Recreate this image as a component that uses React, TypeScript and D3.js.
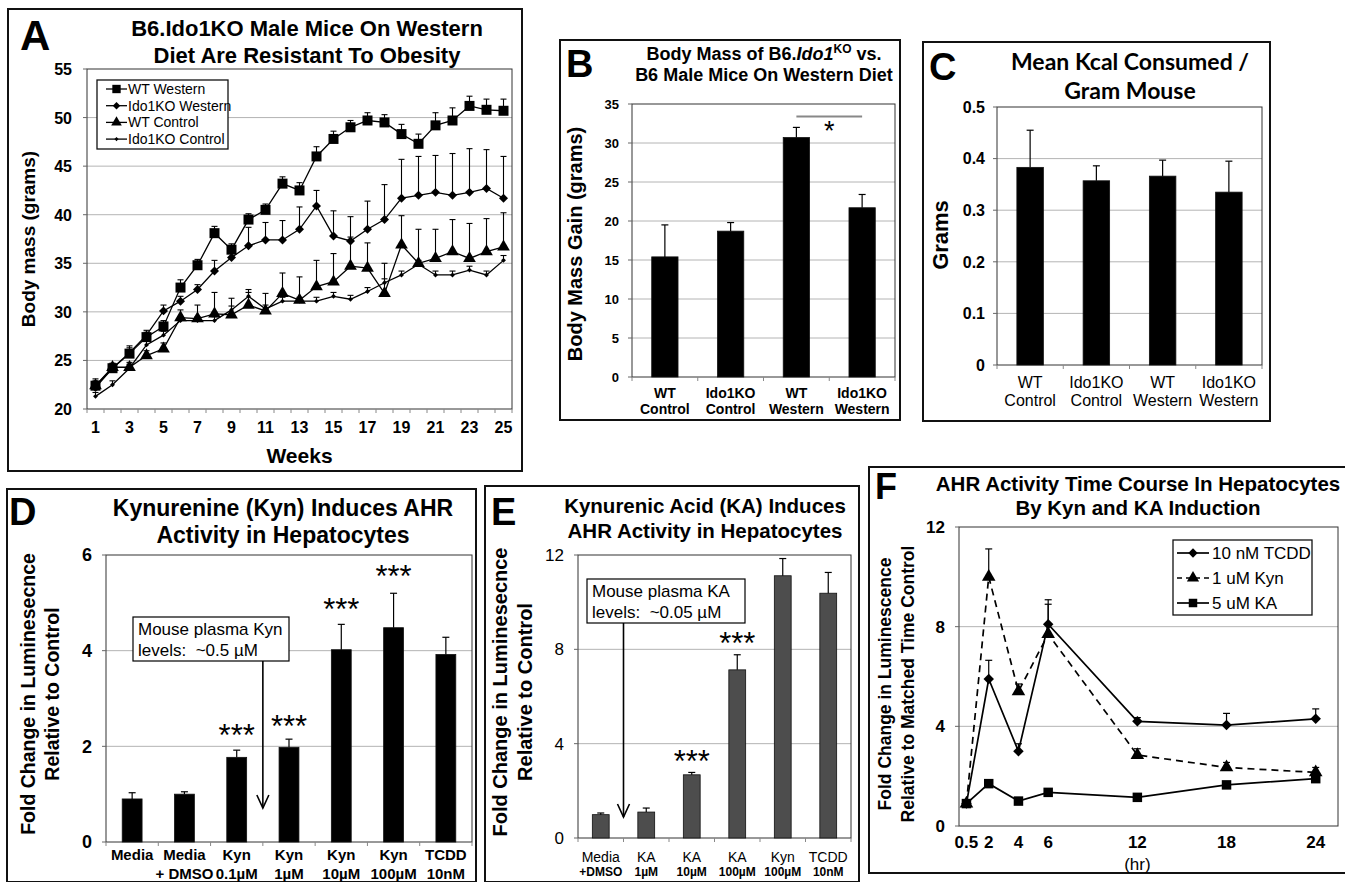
import React from 'react';
import * as d3 from 'd3';

const FONT = "'Liberation Sans', Arial, Helvetica, sans-serif";
const CAL = "Lato, 'Open Sans', sans-serif";
const GRID = '#b4b4b4';

// ---- Panel A: body mass by week ----
const weeks = [1, 2, 3, 4, 5, 6, 7, 8, 9, 10, 11, 12, 13, 14, 15, 16, 17, 18, 19, 20, 21, 22, 23, 24, 25];
const weekLabels = [1, 3, 5, 7, 9, 11, 13, 15, 17, 19, 21, 23, 25];
const massTicks = [20, 25, 30, 35, 40, 45, 50, 55];
const legendA = ['WT Western', 'Ido1KO Western', 'WT Control', 'Ido1KO Control'];
const wtWestern = [22.4, 24.2, 25.7, 27.4, 28.5, 32.5, 34.8, 38.1, 36.4, 39.5, 40.5, 43.2, 42.5, 46.0, 47.8, 49.0, 49.7, 49.5, 48.3, 47.3, 49.2, 49.7, 51.2, 50.8, 50.7];
const wtWesternErr = [0.7, 0.5, 0.8, 0.5, 0.6, 0.8, 0.6, 0.7, 0.6, 0.6, 0.6, 0.7, 0.8, 1.0, 0.8, 0.7, 0.8, 0.8, 1.0, 1.0, 1.3, 1.3, 1.0, 1.1, 1.2];
const koWestern = [22.2, 24.2, 25.8, 27.6, 30.1, 31.1, 32.3, 34.2, 35.6, 36.8, 37.4, 37.4, 38.5, 40.9, 37.8, 37.3, 38.5, 39.5, 41.7, 42.0, 42.3, 42.0, 42.3, 42.7, 41.7];
const koWesternErr = [0.5, 0.4, 0.5, 0.5, 0.6, 0.5, 0.5, 1.1, 0.6, 1.9, 1.8, 2.0, 2.3, 1.6, 2.6, 2.5, 2.9, 3.6, 4.0, 4.0, 3.8, 4.3, 4.5, 4.0, 4.3];
const wtControl = [22.4, 24.3, 24.3, 25.5, 26.2, 29.4, 29.3, 29.8, 29.7, 30.7, 30.1, 31.9, 31.2, 32.6, 33.1, 34.7, 34.5, 31.9, 36.9, 35.0, 35.5, 36.2, 35.5, 36.2, 36.7];
const wtControlErr = [0.5, 0.4, 0.5, 0.5, 0.6, 0.8, 1.4, 2.2, 1.7, 1.6, 1.8, 2.1, 2.4, 2.7, 2.9, 3.0, 2.6, 3.1, 3.0, 3.5, 3.0, 3.3, 3.6, 3.4, 3.5];
const koControl = [21.3, 22.5, 24.2, 26.6, 27.6, 29.1, 29.1, 29.1, 30.2, 31.6, 30.3, 31.1, 31.1, 31.1, 31.6, 31.3, 32.1, 33.0, 33.8, 34.9, 33.8, 33.8, 34.3, 33.8, 35.3];
const koControlErr = [0.4, 0.4, 0.4, 0.4, 0.4, 0.4, 0.4, 0.4, 0.4, 0.4, 0.4, 0.4, 0.4, 0.4, 0.4, 0.4, 0.4, 0.4, 0.4, 0.4, 0.4, 0.4, 0.4, 0.4, 0.5];

// ---- Panel B: body mass gain ----
const groupCats = [['WT', 'Control'], ['Ido1KO', 'Control'], ['WT', 'Western'], ['Ido1KO', 'Western']];
const gainValues = [15.4, 18.7, 30.7, 21.7];
const gainErr = [4.1, 1.1, 1.3, 1.7];
const gainTicks = [0, 5, 10, 15, 20, 25, 30, 35];
const gainSig = 33.4;

// ---- Panel C: kcal per gram ----
const kcalValues = [0.383, 0.357, 0.366, 0.335];
const kcalErr = [0.072, 0.029, 0.031, 0.060];
const kcalTicks = [0, 0.1, 0.2, 0.3, 0.4, 0.5];

// ---- Panel D: Kyn dose ----
const kynCats = [['Media', ''], ['Media', '+ DMSO'], ['Kyn', '0.1µM'], ['Kyn', '1µM'], ['Kyn', '10µM'], ['Kyn', '100µM'], ['TCDD', '10nM']];
const kynValues = [0.9, 1.0, 1.77, 1.98, 4.02, 4.48, 3.92];
const kynErr = [0.13, 0.05, 0.15, 0.17, 0.53, 0.72, 0.36];
const kynStars = [null, null, 2.37, 2.55, 5.0, 5.7, null];
const kynTicks = [0, 2, 4, 6];

// ---- Panel E: KA dose ----
const kaCats = [['Media', '+DMSO'], ['KA', '1µM'], ['KA', '10µM'], ['KA', '100µM'], ['Kyn', '100µM'], ['TCDD', '10nM']];
const kaValues = [0.99, 1.1, 2.68, 7.13, 11.12, 10.38];
const kaErr = [0.07, 0.17, 0.1, 0.64, 0.73, 0.88];
const kaStars = [null, null, 3.53, 8.55, null, null];
const kaTicks = [0, 4, 8, 12];

// ---- Panel F: time course ----
const hours = [0.5, 2, 4, 6, 12, 18, 24];
const legendF = ['10 nM TCDD', '1 uM Kyn', '5 uM KA'];
const tcdd = [0.9, 5.9, 3.0, 8.1, 4.2, 4.05, 4.3];
const tcddErr = [0.1, 0.75, 0.3, 0.98, 0.15, 0.47, 0.4];
const kyn1 = [0.9, 10.0, 5.4, 7.7, 2.85, 2.35, 2.15];
const kyn1Err = [0.1, 1.12, 0.3, 1.2, 0.25, 0.2, 0.2];
const ka5 = [0.9, 1.7, 1.0, 1.35, 1.15, 1.65, 1.9];
const ka5Err = [0.05, 0.08, 0.05, 0.05, 0.05, 0.08, 0.1];
const foldTicks = [0, 4, 8, 12];

const Marker = ({ kind, x, y, size }: { kind: string; x: number; y: number; size: number }) => {
  const type = kind === 'triangle' ? d3.symbolTriangle : d3.symbolSquare;
  const d = d3.symbol().type(type).size(size)() as string;
  return <path d={d} transform={`translate(${x},${y}) rotate(${kind === 'diamond' ? 45 : 0})`} fill="#000" />;
};

const ErrUp = ({ x, y0, y1, w = 6, sw = 1.2 }: { x: number; y0: number; y1: number; w?: number; sw?: number }) => (
  <g stroke="#000" strokeWidth={sw}>
    <line x1={x} x2={x} y1={y0} y2={y1} />
    <line x1={x - w / 2} x2={x + w / 2} y1={y1} y2={y1} />
  </g>
);

const Frame = ({ x, y, w, h }: { x: number; y: number; w: number; h: number }) => (
  <rect x={x} y={y} width={w} height={h} fill="none" stroke="#111" strokeWidth={2} />
);

const Label = ({ t, x, y, size = 38 }: { t: string; x: number; y: number; size?: number }) => (
  <text x={x} y={y} fontSize={size} fontWeight="bold" fontFamily={FONT}>{t}</text>
);

const Title = ({ lines, x, ys, size, family = FONT }: { lines: React.ReactNode[]; x: number; ys: number[]; size: number; family?: string }) => (
  <g fontFamily={family} fontSize={size} fontWeight="bold" textAnchor="middle">
    {lines.map((l, i) => <text key={i} x={x} y={ys[i]}>{l}</text>)}
  </g>
);

const YLabel = ({ lines, xs, cy, size }: { lines: string[]; xs: number[]; cy: number; size: number }) => (
  <g fontFamily={FONT} fontSize={size} fontWeight="bold" textAnchor="middle">
    {lines.map((l, i) => <text key={i} transform={`translate(${xs[i]},${cy}) rotate(-90)`}>{l}</text>)}
  </g>
);

type BarProps = {
  left: number; right: number; top: number; bottom: number; max: number;
  ticks: number[]; grid: number[]; cats: string[][]; values: number[]; errs: number[];
  fill: string; pad: number; tickGap: number; tickSize: number; tickWeight: string;
  catSizes: number[]; catWeights: string[]; catBase: number[]; catFamily?: string;
  fmt?: (v: number) => string; stars?: (number | null)[]; starSize?: number;
};

function BarChart(p: BarProps) {
  const x = d3.scaleBand<number>().domain(p.values.map((_, i) => i)).range([p.left, p.right])
    .paddingInner(p.pad).paddingOuter(p.pad / 2);
  const y = d3.scaleLinear().domain([0, p.max]).range([p.bottom, p.top]);
  const step = x.step();
  const fmt = p.fmt ?? ((v: number) => String(v));
  const starSize = p.starSize ?? 31;
  return (
    <g>
      {p.grid.map(g => <line key={g} x1={p.left} x2={p.right} y1={y(g)} y2={y(g)} stroke={GRID} strokeWidth={1} />)}
      <rect x={p.left} y={p.top} width={p.right - p.left} height={p.bottom - p.top} fill="none" stroke="#333" strokeWidth={1} />
      {p.ticks.map(t => (
        <g key={t}>
          <line x1={p.left - 4} x2={p.left} y1={y(t)} y2={y(t)} stroke="#666" />
          <text x={p.left - p.tickGap} y={y(t) + p.tickSize * 0.36} textAnchor="end" fontFamily={FONT} fontSize={p.tickSize} fontWeight={p.tickWeight}>{fmt(t)}</text>
        </g>
      ))}
      {p.values.map((_, i) => (
        <line key={i} x1={p.left + step * i} x2={p.left + step * i} y1={p.bottom} y2={p.bottom + 4} stroke="#888" />
      ))}
      <line x1={p.right} x2={p.right} y1={p.bottom} y2={p.bottom + 4} stroke="#888" />
      {p.values.map((v, i) => (
        <g key={i}>
          <rect x={x(i)} y={y(v)} width={x.bandwidth()} height={p.bottom - y(v)} fill={p.fill} stroke="#111" strokeWidth={0.8} />
          <ErrUp x={(x(i) ?? 0) + x.bandwidth() / 2} y0={y(v)} y1={y(v + p.errs[i])} w={7} />
        </g>
      ))}
      {p.cats.map((c, i) => (
        <g key={i} textAnchor="middle" fontFamily={p.catFamily ?? FONT}>
          {c.map((l, j) => (
            <text key={j} x={(x(i) ?? 0) + x.bandwidth() / 2} y={p.catBase[j]} fontSize={p.catSizes[j]} fontWeight={p.catWeights[j]}>{l}</text>
          ))}
        </g>
      ))}
      {p.stars && p.stars.map((s, i) => s == null ? null : (
        <text key={i} x={(x(i) ?? 0) + x.bandwidth() / 2} y={y(s) + starSize * 0.56} textAnchor="middle"
          fontFamily={FONT} fontSize={starSize}>***</text>
      ))}
    </g>
  );
}

function Annotation({ x, y, w, h, lines, arrowX, tipY }: { x: number; y: number; w: number; h: number; lines: string[]; arrowX: number; tipY: number }) {
  return (
    <g>
      <rect x={x} y={y} width={w} height={h} fill="#fff" stroke="#000" strokeWidth={1.2} />
      {lines.map((l, i) => (
        <text key={i} x={x + 5} y={y + 18 + i * 20.5} fontFamily={FONT} fontSize={17} style={{ whiteSpace: 'pre' }}>{l}</text>
      ))}
      <g stroke="#000" strokeWidth={1.6} fill="none">
        <line x1={arrowX} x2={arrowX} y1={y + h} y2={tipY} />
        <polyline points={`${arrowX - 6},${tipY - 13} ${arrowX},${tipY} ${arrowX + 6},${tipY - 13}`} />
      </g>
    </g>
  );
}

function PanelA() {
  const left = 87, right = 512, top = 69, bottom = 409;
  const x = d3.scaleBand<number>().domain(weeks).range([left, right]);
  const cx = (w: number) => (x(w) ?? 0) + x.bandwidth() / 2;
  const y = d3.scaleLinear().domain([20, 55]).range([bottom, top]);
  const series = [
    { name: legendA[3], values: koControl, errs: koControlErr, kind: 'diamond', size: 12 },
    { name: legendA[2], values: wtControl, errs: wtControlErr, kind: 'triangle', size: 70 },
    { name: legendA[1], values: koWestern, errs: koWesternErr, kind: 'diamond', size: 40 },
    { name: legendA[0], values: wtWestern, errs: wtWesternErr, kind: 'square', size: 100 },
  ];
  const line = d3.line<number>().x((_, i) => cx(weeks[i])).y(v => y(v));
  const legendOrder = [...series].reverse();
  return (
    <g>
      <Frame x={8} y={9} w={514} h={462} />
      <Label t="A" x={20} y={50} size={42} />
      <Title lines={['B6.Ido1KO Male Mice On Western', 'Diet Are Resistant To Obesity']} x={307} ys={[36, 63]} size={22} />
      {massTicks.slice(1, -1).map(t => <line key={t} x1={left} x2={right} y1={y(t)} y2={y(t)} stroke={GRID} />)}
      <rect x={left} y={top} width={right - left} height={bottom - top} fill="none" stroke="#333" />
      {massTicks.map(t => (
        <g key={t}>
          <line x1={left - 4} x2={left} y1={y(t)} y2={y(t)} stroke="#666" />
          <text x={72} y={y(t) + 6} textAnchor="end" fontFamily={FONT} fontSize={16} fontWeight="bold">{t}</text>
        </g>
      ))}
      {weeks.map(w => <line key={w} x1={x(w)} x2={x(w)} y1={bottom} y2={bottom + 4} stroke="#888" />)}
      <line x1={right} x2={right} y1={bottom} y2={bottom + 4} stroke="#888" />
      {weekLabels.map(w => (
        <text key={w} x={cx(w)} y={433} textAnchor="middle" fontFamily={FONT} fontSize={16} fontWeight="bold">{w}</text>
      ))}
      <text x={(left + right) / 2} y={463} textAnchor="middle" fontFamily={FONT} fontSize={21} fontWeight="bold">Weeks</text>
      <YLabel lines={['Body mass (grams)']} xs={[35]} cy={(top + bottom) / 2} size={19} />
      {series.map(s => s.values.map((v, i) => (
        <ErrUp key={s.name + i} x={cx(weeks[i])} y0={y(v)} y1={y(v + s.errs[i])} w={6} sw={1.1} />
      )))}
      {series.map(s => (
        <g key={s.name}>
          <path d={line(s.values) as string} fill="none" stroke="#000" strokeWidth={1.3} />
          {s.values.map((v, i) => <Marker key={i} kind={s.kind} x={cx(weeks[i])} y={y(v)} size={s.size} />)}
        </g>
      ))}
      <rect x={97} y={80} width={131} height={69} fill="#fff" stroke="#111" strokeWidth={1.3} />
      {legendOrder.map((s, i) => {
        const ly = 89 + i * 16.7;
        return (
          <g key={s.name}>
            <line x1={106} x2={127} y1={ly} y2={ly} stroke="#000" strokeWidth={1.3} />
            <Marker kind={s.kind} x={116.5} y={ly} size={s.size * 0.7} />
            <text x={128} y={ly + 5} fontFamily={FONT} fontSize={14}>{s.name}</text>
          </g>
        );
      })}
    </g>
  );
}

function PanelB() {
  const y = d3.scaleLinear().domain([0, 35]).range([377, 104]);
  const x = d3.scaleBand<number>().domain([0, 1, 2, 3]).range([632, 895]).paddingInner(0.6).paddingOuter(0.3);
  const c = (i: number) => (x(i) ?? 0) + x.bandwidth() / 2;
  return (
    <g>
      <Frame x={560} y={40} w={340} h={380} />
      <Label t="B" x={566} y={77} />
      <Title lines={[
        <>Body Mass of B6.<tspan fontStyle="italic">Ido1</tspan><tspan dy={-7} fontSize={12}>KO</tspan><tspan dy={7}> vs.</tspan></>,
        'B6 Male Mice On Western Diet']} x={764} ys={[60, 81]} size={18} />
      <YLabel lines={['Body Mass Gain (grams)']} xs={[582]} cy={244} size={20} />
      <BarChart left={632} right={895} top={104} bottom={377} max={35} ticks={gainTicks} grid={gainTicks.slice(1, -1)}
        cats={groupCats} values={gainValues} errs={gainErr} fill="#000" pad={0.6} tickGap={13} tickSize={13} tickWeight="bold"
        catSizes={[14, 14]} catWeights={['bold', 'bold']} catBase={[398, 414]} />
      <line x1={c(2)} x2={c(3)} y1={y(gainSig)} y2={y(gainSig)} stroke="#888" strokeWidth={2} />
      <text x={(c(2) + c(3)) / 2} y={y(gainSig) + 24} textAnchor="middle" fontFamily={FONT} fontSize={27}>*</text>
    </g>
  );
}

function PanelC() {
  return (
    <g>
      <Frame x={923} y={42} w={347} h={379} />
      <Label t="C" x={929} y={80} />
      <Title lines={['Mean Kcal Consumed /', 'Gram Mouse']} x={1130} ys={[70, 99]} size={23} family={CAL} />
      <YLabel lines={['Grams']} xs={[948]} cy={235} size={22} />
      <BarChart left={997} right={1262} top={107} bottom={365} max={0.5} ticks={kcalTicks} grid={kcalTicks.slice(1, -1)}
        cats={groupCats} values={kcalValues} errs={kcalErr} fill="#000" pad={0.6} tickGap={12} tickSize={16} tickWeight="bold"
        catSizes={[16, 16]} catWeights={['normal', 'normal']} catBase={[388, 406]} fmt={v => String(v)} />
    </g>
  );
}

function PanelD() {
  const x = d3.scaleBand<number>().domain(kynValues.map((_, i) => i)).range([106, 472]);
  return (
    <g>
      <Frame x={7} y={489} w={469} h={393} />
      <Label t="D" x={9} y={525} />
      <Title lines={['Kynurenine (Kyn) Induces AHR', 'Activity in Hepatocytes']} x={283} ys={[516, 543]} size={23} />
      <YLabel lines={['Fold Change in Luminesecnce', 'Relative to Control']} xs={[35, 59]} cy={694} size={19.5} />
      <BarChart left={106} right={472} top={555} bottom={842} max={6} ticks={kynTicks} grid={[2, 4]}
        cats={kynCats} values={kynValues} errs={kynErr} fill="#000" pad={0.62} tickGap={14} tickSize={18} tickWeight="bold"
        catSizes={[15, 15]} catWeights={['bold', 'bold']} catBase={[860, 879]} stars={kynStars} />
      <Annotation x={133} y={617} w={156} h={44} lines={['Mouse plasma Kyn', 'levels:  ~0.5 µM']} arrowX={106 + x.step() * 3} tipY={808} />
    </g>
  );
}

function PanelE() {
  const x = d3.scaleBand<number>().domain(kaValues.map((_, i) => i)).range([578, 851]);
  return (
    <g>
      <Frame x={485} y={486} w={374} h={396} />
      <Label t="E" x={491} y={525} />
      <Title lines={['Kynurenic Acid (KA) Induces', 'AHR Activity in Hepatocytes']} x={705} ys={[513, 538]} size={20.5} />
      <YLabel lines={['Fold Change in Luminesecnce', 'Relative to Control']} xs={[507, 532]} cy={692} size={20} />
      <BarChart left={578} right={851} top={555} bottom={838} max={12} ticks={kaTicks} grid={[4, 8]}
        cats={kaCats} values={kaValues} errs={kaErr} fill="#4d4d4d" pad={0.63} tickGap={14} tickSize={17} tickWeight="normal"
        catSizes={[14, 12]} catWeights={['normal', 'bold']} catBase={[862, 876]} stars={kaStars} />
      <Annotation x={587} y={579} w={158} h={44} lines={['Mouse plasma KA', 'levels:  ~0.05 µM']} arrowX={578 + x.step()} tipY={817} />
    </g>
  );
}

function PanelF() {
  const left = 959, right = 1338, top = 527, bottom = 826;
  const x = d3.scaleLinear().domain([0, 25.5]).range([left, right]);
  const y = d3.scaleLinear().domain([0, 12]).range([bottom, top]);
  const series = [
    { name: legendF[2], values: ka5, errs: ka5Err, kind: 'square', size: 90, dash: undefined as string | undefined },
    { name: legendF[1], values: kyn1, errs: kyn1Err, kind: 'triangle', size: 80, dash: '7,5' },
    { name: legendF[0], values: tcdd, errs: tcddErr, kind: 'diamond', size: 55, dash: undefined },
  ];
  const line = d3.line<number>().x((_, i) => x(hours[i])).y(v => y(v));
  const legendOrder = [...series].reverse();
  return (
    <g>
      <Frame x={869} y={467} w={480} h={406} />
      <Label t="F" x={875} y={499} size={36} />
      <Title lines={['AHR Activity Time Course In Hepatocytes', 'By Kyn and KA Induction']} x={1138} ys={[491, 515]} size={20.5} />
      <YLabel lines={['Fold Change in Luminescence', 'Relative to Matched Time Control']} xs={[891, 914]} cy={684} size={17.5} />
      {[4, 8].map(t => <line key={t} x1={left} x2={right} y1={y(t)} y2={y(t)} stroke={GRID} />)}
      <rect x={left} y={top} width={right - left} height={bottom - top} fill="none" stroke="#333" />
      {foldTicks.map(t => (
        <g key={t}>
          <line x1={left - 4} x2={left} y1={y(t)} y2={y(t)} stroke="#666" />
          <text x={945} y={y(t) + 6} textAnchor="end" fontFamily={FONT} fontSize={17} fontWeight="bold">{t}</text>
        </g>
      ))}
      {hours.map(h => (
        <text key={h} x={x(h)} y={848} textAnchor="middle" fontFamily={FONT} fontSize={17} fontWeight="bold">{h}</text>
      ))}
      <text x={x(12)} y={870} textAnchor="middle" fontFamily={FONT} fontSize={17}>(hr)</text>
      {series.map(s => s.values.map((v, i) => (
        <ErrUp key={s.name + i} x={x(hours[i])} y0={y(v)} y1={y(v + s.errs[i])} w={7} />
      )))}
      {series.map(s => (
        <g key={s.name}>
          <path d={line(s.values) as string} fill="none" stroke="#000" strokeWidth={1.7} strokeDasharray={s.dash} />
          {s.values.map((v, i) => <Marker key={i} kind={s.kind} x={x(hours[i])} y={y(v)} size={s.size} />)}
        </g>
      ))}
      <rect x={1173} y={540} width={139} height={75} fill="#fff" stroke="#111" strokeWidth={1.3} />
      {legendOrder.map((s, i) => {
        const ly = 553 + i * 25;
        return (
          <g key={s.name}>
            <line x1={1177} x2={1209} y1={ly} y2={ly} stroke="#000" strokeWidth={1.7} strokeDasharray={s.dash ? '5,4' : undefined} />
            <Marker kind={s.kind} x={1193} y={ly} size={s.size * 0.8} />
            <text x={1212} y={ly + 6} fontFamily={FONT} fontSize={17}>{s.name}</text>
          </g>
        );
      })}
    </g>
  );
}

export default function App() {
  return (
    <svg width={1345} height={882} style={{ position: 'absolute', left: 0, top: 0, background: '#fff' }}>
      <rect width={1345} height={882} fill="#fff" />
      <PanelA />
      <PanelB />
      <PanelC />
      <PanelD />
      <PanelE />
      <PanelF />
    </svg>
  );
}
